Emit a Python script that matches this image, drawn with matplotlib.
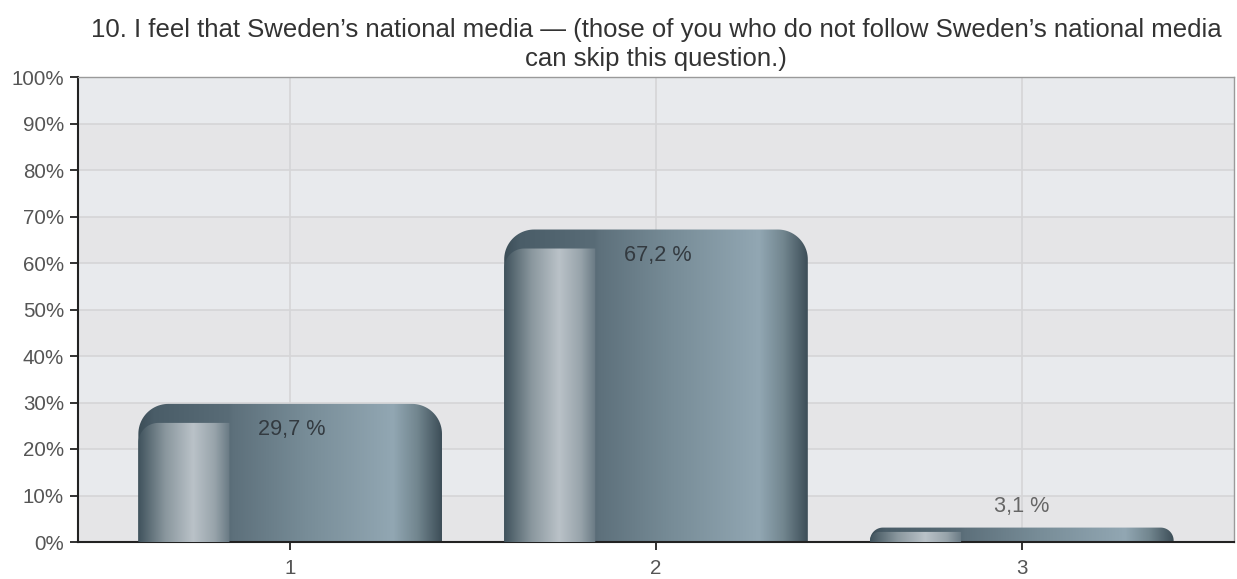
import numpy as np
import matplotlib
matplotlib.use("Agg")
import matplotlib.pyplot as plt
from matplotlib.path import Path
from matplotlib.patches import PathPatch
from matplotlib.colors import to_rgb

plt.rcParams['font.family'] = ['Liberation Sans', 'DejaVu Sans']

# ---- data ----
categories = ['1', '2', '3']
values = [29.7, 67.2, 3.1]
value_labels = ['29,7 %', '67,2 %', '3,1 %']
yticks = list(range(0, 101, 10))
ytick_labels = [f'{t}%' for t in yticks]
title = ("10. I feel that Sweden\u2019s national media \u2014 (those of you who do not follow Sweden\u2019s national media\n"
         "can skip this question.)")

W, H, DPI = 1237, 579, 100
fig = plt.figure(figsize=(W / DPI, H / DPI), dpi=DPI)
L, R, B, T = 78, 1234, 542, 77
ax = fig.add_axes([L / W, (H - B) / H, (R - L) / W, (B - T) / H])

xpos = np.arange(1, len(categories) + 1)
xlim = (0.42, len(categories) + 0.58)
ylim = (0, 100)
bar_w = 0.83

# background bands
ax.set_facecolor('#e8eaed')
for lo in range(0, 100, 20):
    ax.axhspan(lo, lo + 10, color='#e5e5e7', zorder=0, lw=0)

ax.set_axisbelow(True)
ax.grid(True, color='#d5d5d7', lw=1.2, zorder=0.5)

# data units per pixel
px_x = (xlim[1] - xlim[0]) / (R - L)
px_y = (ylim[1] - ylim[0]) / (B - T)


def rounded_top(x0, x1, h, rxp, ryp, right_round=True, n=24):
    rx, ry = rxp * px_x, ryp * px_y
    verts = [(x0, 0), (x0, h - ry)]
    for t in np.linspace(np.pi, np.pi / 2, n):
        verts.append((x0 + rx + rx * np.cos(t), h - ry + ry * np.sin(t)))
    if right_round:
        for t in np.linspace(np.pi / 2, 0, n):
            verts.append((x1 - rx + rx * np.cos(t), h - ry + ry * np.sin(t)))
    else:
        verts.append((x1, h))
    verts.append((x1, 0))
    verts.append((x0, 0))
    codes = [Path.MOVETO] + [Path.LINETO] * (len(verts) - 2) + [Path.CLOSEPOLY]
    return Path(verts, codes)


def gradient(stops, n=400):
    fs = np.array([s[0] for s in stops])
    cols = np.array([to_rgb(s[1]) for s in stops])
    f = np.linspace(0, 1, n)
    img = np.stack([np.interp(f, fs, cols[:, k]) for k in range(3)], axis=-1)
    return img[None, :, :]


main_stops = [(0.00, '#3b4d57'), (0.05, '#4a5d68'), (0.30, '#596c77'),
              (0.31, '#5d707b'), (0.55, '#778c97'), (0.84, '#92a7b3'),
              (0.92, '#72868f'), (1.00, '#3d4e58')]
panel_frac = 0.30
panel_stops = [(0.00, '#3f525c'), (0.09 / panel_frac, '#8a979e'),
               (0.18 / panel_frac, '#bac2c8'), (0.25 / panel_frac, '#98a4ab'),
               (1.00, '#687983')]
main_img = gradient(main_stops)
panel_img = gradient(panel_stops)

for x, v, lab in zip(xpos, values, value_labels):
    x0, x1 = x - bar_w / 2, x + bar_w / 2
    hpx = v / px_y
    r_out = min(30, 0.9 * hpx)
    outer = rounded_top(x0, x1, v, r_out * 1.0, r_out)
    patch = PathPatch(outer, transform=ax.transData, facecolor='none', edgecolor='none')
    im = ax.imshow(main_img, extent=[x0, x1, 0, v], aspect='auto', zorder=2,
                   interpolation='bilinear')
    im.set_clip_path(patch)

    off_px = min(19, 0.3 * hpx)
    ph = v - off_px * px_y
    r_in = min(20, 0.9 * (hpx - off_px))
    px1 = x0 + panel_frac * bar_w
    inner = rounded_top(x0, px1, ph, r_in, r_in, right_round=False)
    ppatch = PathPatch(inner, transform=ax.transData, facecolor='none', edgecolor='none')
    im2 = ax.imshow(panel_img, extent=[x0, px1, 0, ph], aspect='auto', zorder=3,
                    interpolation='bilinear')
    im2.set_clip_path(ppatch)

    if v > 10:
        ax.text(x + 0.005, v - 26 * px_y, lab, ha='center', va='center',
                fontsize=15.6, color='#333a40', zorder=5)
    else:
        ax.text(x, v + 21 * px_y, lab, ha='center', va='center',
                fontsize=15.6, color='#666666', zorder=5)

ax.set_xlim(*xlim)
ax.set_ylim(*ylim)
ax.set_xticks(xpos)
ax.set_xticklabels(categories)
ax.set_yticks(yticks)
ax.set_yticklabels(ytick_labels)
ax.tick_params(axis='both', direction='out', length=6, width=1.3, color='#222222',
               labelsize=14.8, labelcolor='#555555', pad=4)
ax.tick_params(axis='x', pad=6)

for s in ['left', 'bottom']:
    ax.spines[s].set_color('#222222')
    ax.spines[s].set_linewidth(1.5)
for s in ['top', 'right']:
    ax.spines[s].set_color('#9a9a9a')
    ax.spines[s].set_linewidth(1.0)

ax.set_title(title, fontsize=18.5, color='#333333', pad=8, linespacing=1.25)

fig.savefig('out.png', dpi=DPI, facecolor='white')
